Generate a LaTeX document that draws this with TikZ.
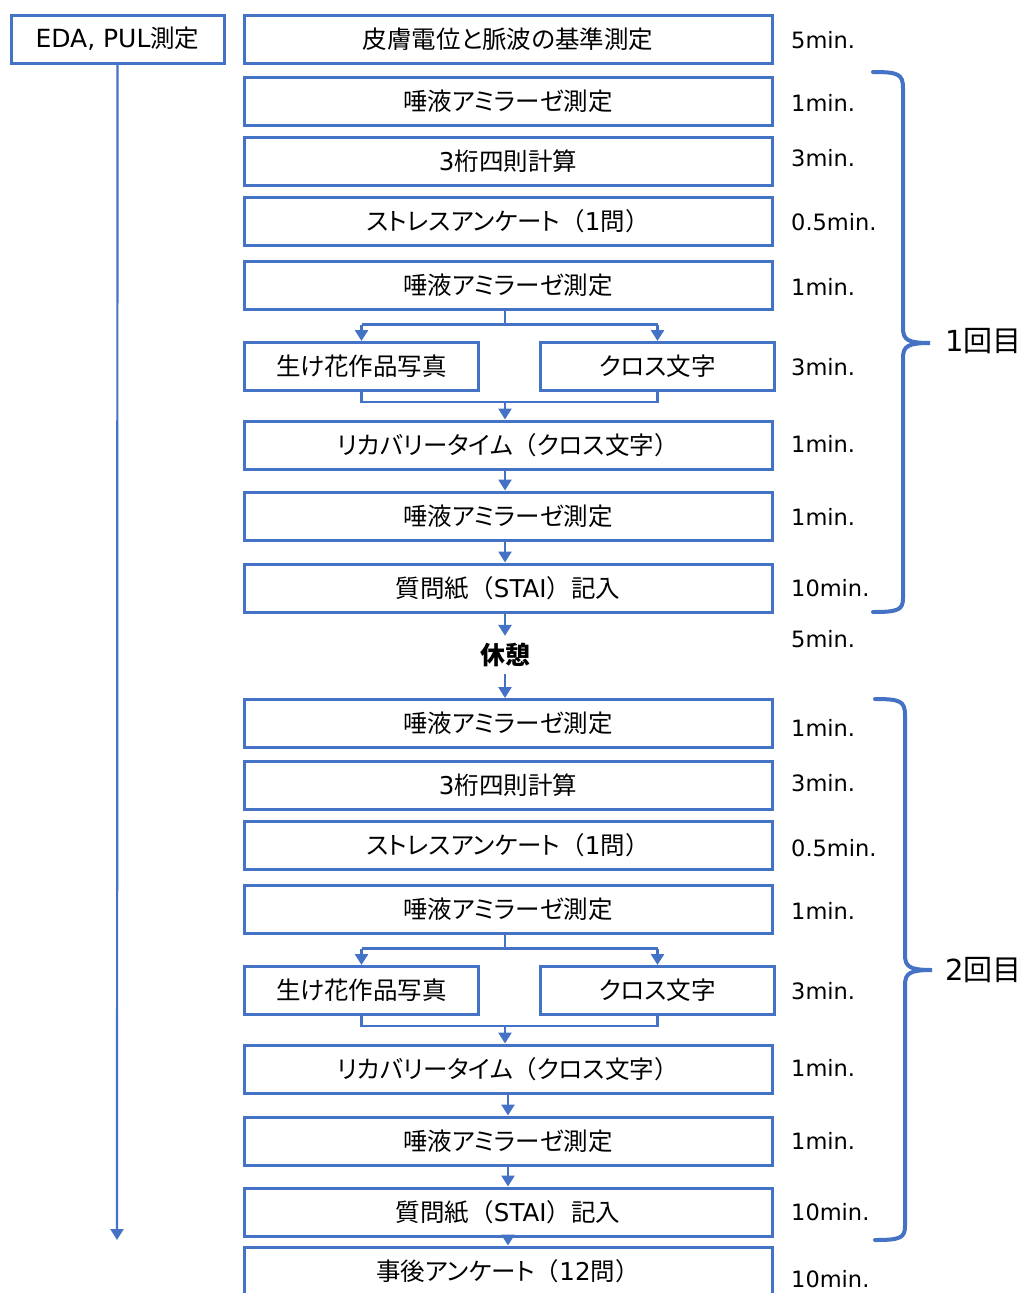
\documentclass[tikz,border=0pt]{standalone}
\usepackage{fontspec}
\setmainfont{Noto Sans CJK JP}[RawFeature=+palt]
\newfontfamily\fwfont{Noto Sans CJK JP}
\newfontfamily\lat{DejaVu Sans}
\newcommand{\kakkoL}{{\fwfont （}}
\newcommand{\kakkoR}{{\fwfont ）}}
\usetikzlibrary{arrows.meta}
\definecolor{flowblue}{HTML}{4472C4}
\tikzset{
  box/.style={draw=flowblue, line width=3pt, fill=white, minimum height=48pt, inner sep=0pt,
    font=\fontsize{24.5}{27}\selectfont, text=black},
  mainbox/.style={box, minimum width=528pt},
  halfbox/.style={box, minimum width=234pt},
  conn/.style={draw=flowblue, line width=2.6pt},
  arr/.style={conn, -{Triangle[width=13pt,length=11pt]}},
  mins/.style={anchor=west, inner sep=0pt, font=\lat\fontsize{22.5}{25}\selectfont, text=black},
  brace/.style={draw=flowblue, line width=4pt, line cap=round},
  roundlbl/.style={anchor=west, inner sep=0pt, font=\fontsize{29}{32}\selectfont, text=black}
}
\begin{document}
\begin{tikzpicture}[x=1pt,y=-1pt]
\clip (0,0) rectangle (1024,1293);
\fill[white] (0,0) rectangle (1024,1293);

% left box and timeline
\node[box, minimum width=213pt] (eda) at (117.5,39) {{\lat\fontsize{25}{27}\selectfont EDA, PUL}測定};
\coordinate (edaend) at (117,1240);
\draw[arr, line width=2.2pt] (eda.south) -- (edaend);

% round 1
\node[mainbox] (r1) at (508,39) {皮膚電位と脈波の基準測定};
\node[mainbox] (r2) at (508,101) {唾液アミラーゼ測定};
\node[mainbox] (r3) at (508,161) {{\lat 3}桁四則計算};
\node[mainbox] (r4) at (508,221) {ストレスアンケート\kakkoL{\lat 1}問\kakkoR};
\node[mainbox] (r5) at (508,285) {唾液アミラーゼ測定};
\node[halfbox] (r6a) at (361.5,366.5) {生け花作品写真};
\node[halfbox] (r6b) at (657.5,366.5) {クロス文字};
\node[mainbox] (r7) at (508,445) {リカバリータイム\kakkoL クロス文字\kakkoR};
\node[mainbox] (r8) at (508,516) {唾液アミラーゼ測定};
\node[mainbox] (r9) at (508,588) {質問紙\kakkoL{\lat STAI}\kakkoR 記入};
\node[inner sep=0pt, minimum height=38pt, font=\fontsize{25}{28}\selectfont\bfseries] (rest) at (505,655) {休憩};

% round 2
\node[mainbox] (r10) at (508,723.5) {唾液アミラーゼ測定};
\node[mainbox] (r11) at (508,785) {{\lat 3}桁四則計算};
\node[mainbox] (r12) at (508,845) {ストレスアンケート\kakkoL{\lat 1}問\kakkoR};
\node[mainbox] (r13) at (508,909) {唾液アミラーゼ測定};
\node[halfbox] (r14a) at (361.5,990.5) {生け花作品写真};
\node[halfbox] (r14b) at (657.5,990.5) {クロス文字};
\node[mainbox] (r15) at (508,1069) {リカバリータイム\kakkoL クロス文字\kakkoR};
\node[mainbox] (r16) at (508,1141) {唾液アミラーゼ測定};
\node[mainbox] (r17) at (508,1212) {質問紙\kakkoL{\lat STAI}\kakkoR 記入};
\node[mainbox] (r18) at (508,1271) {事後アンケート\kakkoL{\lat 12}問\kakkoR};

% connectors round 1
\draw[conn] ([xshift=-3pt]r5.south) -- ++(0,14) coordinate (s1);
\draw[conn] (s1 -| r6a.north) -- (s1 -| r6b.north);
\draw[arr] (s1 -| r6a.north) -- (r6a.north);
\draw[arr] (s1 -| r6b.north) -- (r6b.north);
\draw[conn] (r6a.south) -- ++(0,10) coordinate (m1) -- (m1 -| r6b.south) -- (r6b.south);
\path (m1 -| r7.north) ++(-3,0) coordinate (m1c);
\draw[arr] (m1c) -- (m1c |- r7.north);
\draw[arr] ([xshift=-3pt]r7.south) -- ([xshift=-3pt]r8.north);
\draw[arr] ([xshift=-3pt]r8.south) -- ([xshift=-3pt]r9.north);
\draw[arr] ([xshift=-3pt]r9.south) -- (rest.north);
\draw[arr] (rest.south) -- ([xshift=-3pt]r10.north);

% connectors round 2
\draw[conn] ([xshift=-3pt]r13.south) -- ++(0,14) coordinate (s2);
\draw[conn] (s2 -| r14a.north) -- (s2 -| r14b.north);
\draw[arr] (s2 -| r14a.north) -- (r14a.north);
\draw[arr] (s2 -| r14b.north) -- (r14b.north);
\draw[conn] (r14a.south) -- ++(0,10) coordinate (m2) -- (m2 -| r14b.south) -- (r14b.south);
\path (m2 -| r15.north) ++(-3,0) coordinate (m2c);
\draw[arr] (m2c) -- (m2c |- r15.north);
\draw[arr] (r15.south) -- (r16.north);
\draw[arr] (r16.south) -- (r17.north);
\draw[arr] (r17.south) -- (r18.north);

% durations
\node[mins] at (791,40) {5min.};
\node[mins] at (791,103) {1min.};
\node[mins] at (791,158) {3min.};
\node[mins] at (791,222) {0.5min.};
\node[mins] at (791,287) {1min.};
\node[mins] at (791,367) {3min.};
\node[mins] at (791,444) {1min.};
\node[mins] at (791,517) {1min.};
\node[mins] at (791,588) {10min.};
\node[mins] at (791,639) {5min.};
\node[mins] at (791,728) {1min.};
\node[mins] at (791,783) {3min.};
\node[mins] at (791,848) {0.5min.};
\node[mins] at (791,911) {1min.};
\node[mins] at (791,991) {3min.};
\node[mins] at (791,1068) {1min.};
\node[mins] at (791,1141) {1min.};
\node[mins] at (791,1212) {10min.};
\node[mins] at (791,1279) {10min.};

% braces
\draw[brace] (873,72) .. controls (898,72) and (903,74) .. (903,88) -- (903,328)
  .. controls (903,340) and (908,343) .. (930,343)
  .. controls (908,343) and (903,346) .. (903,358) -- (903,598)
  .. controls (903,610) and (898,612) .. (873,612);
\node[roundlbl] (lbl1) at (945,341) {{\lat 1}回目};
\draw[brace] (875,699) .. controls (900,699) and (905,701) .. (905,715) -- (905,955)
  .. controls (905,967) and (910,970) .. (932,970)
  .. controls (910,970) and (905,973) .. (905,985) -- (905,1226)
  .. controls (905,1238) and (900,1240) .. (875,1240);
\node[roundlbl] (lbl2) at (945,970) {{\lat 2}回目};
\end{tikzpicture}
\end{document}
